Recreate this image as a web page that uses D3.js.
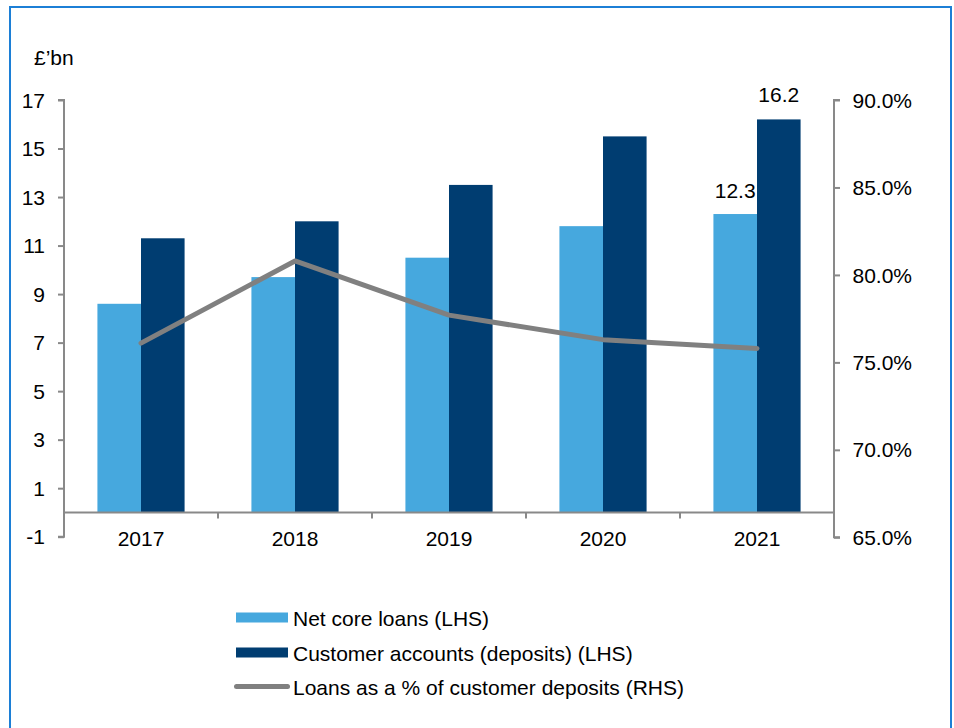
<!DOCTYPE html>
<html><head><meta charset="utf-8">
<script src="https://cdn.jsdelivr.net/npm/d3@7"></script>
<style>body{margin:0;background:#fff;} svg{display:block;font-family:"Liberation Sans",Arial,sans-serif;}</style>
</head><body>
<svg id="c" width="954" height="728"></svg>
<script>
const years = ["2017","2018","2019","2020","2021"];
const netCoreLoans = [8.6, 9.7, 10.5, 11.8, 12.3];
const customerAccounts = [11.3, 12.0, 13.5, 15.5, 16.2];
const loansPct = [76.1, 80.8, 77.7, 76.3, 75.8];
const leftTicks = [-1,1,3,5,7,9,11,13,15,17];
const rightTicks = [65,70,75,80,85,90];
const legendLabels = ["Net core loans (LHS)","Customer accounts (deposits) (LHS)","Loans as a % of customer deposits (RHS)"];

const FS = 21;
const svg = d3.select("#c");
const light = "#46a8de", dark = "#003d71", grey = "#808080", axisC = "#898989";
svg.append("rect").attr("x",10).attr("y",7).attr("width",941).attr("height",740)
  .attr("fill","none").attr("stroke","#1c7fd6").attr("stroke-width",2);

const x0 = 64, x1 = 834;
const x = d3.scaleBand().domain(years).range([x0,x1]);
const yL = d3.scaleLinear().domain([-1,17]).range([536.7,100]);
const yR = d3.scaleLinear().domain([65,90]).range([537.3,100]);
const bw = x.bandwidth()*0.283;

const g = svg.append("g");
years.forEach((yr,i)=>{
  const c = x(yr)+x.bandwidth()/2;
  g.append("rect").attr("x",c-bw).attr("width",bw).attr("y",yL(netCoreLoans[i])).attr("height",yL(0)-yL(netCoreLoans[i])).attr("fill",light);
  g.append("rect").attr("x",c).attr("width",bw).attr("y",yL(customerAccounts[i])).attr("height",yL(0)-yL(customerAccounts[i])).attr("fill",dark);
});

// left axis
const la = svg.append("g").attr("transform",`translate(${x0},0)`)
  .call(d3.axisLeft(yL).tickValues(leftTicks).tickSize(6).tickPadding(13).tickFormat(d=>d<0?"-"+Math.abs(d):String(d)));
// right axis
const ra = svg.append("g").attr("transform",`translate(${x1},0)`)
  .call(d3.axisRight(yR).tickValues(rightTicks).tickSize(6).tickPadding(12.5).tickFormat(d=>d.toFixed(1)+"%"));
[la,ra].forEach(a=>{
  a.selectAll(".tick line").attr("stroke",axisC).attr("stroke-width",2);
  a.selectAll("text").attr("font-size",FS).attr("fill","#000").attr("dy","0.34em")
    .attr("font-family","Liberation Sans, Arial, sans-serif");
});
la.select(".domain").attr("stroke",axisC).attr("stroke-width",2).attr("d",`M-6,${yL(-1)}H0V${yL(17)}H-6`);
ra.select(".domain").attr("stroke",axisC).attr("stroke-width",2).attr("d",`M6,${yR(65)}H0V${yR(90)}H6`);

// x axis at zero
const xa = svg.append("g").attr("transform",`translate(0,${yL(0)})`);
xa.append("line").attr("x1",x0).attr("x2",x1).attr("stroke",axisC).attr("stroke-width",2);
years.slice(1).forEach(yr=>{
  xa.append("line").attr("x1",x(yr)).attr("x2",x(yr)).attr("y1",0).attr("y2",6).attr("stroke",axisC).attr("stroke-width",2);
});
years.forEach(yr=>{
  svg.append("text").attr("x",x(yr)+x.bandwidth()/2).attr("y",546).attr("text-anchor","middle")
    .attr("font-size",FS).text(yr);
});

// line
const line = d3.line().x((d,i)=>x(years[i])+x.bandwidth()/2).y(d=>yR(d));
svg.append("path").datum(loansPct).attr("d",line).attr("fill","none").attr("stroke",grey)
  .attr("stroke-width",5).attr("stroke-linejoin","round").attr("stroke-linecap","round");

// data labels for 2021
const last = years.length-1;
const cl = x(years[last])+x.bandwidth()/2;
svg.append("text").attr("x",cl-bw/2).attr("y",yL(netCoreLoans[last])-16.5).attr("text-anchor","middle").attr("font-size",FS).text(netCoreLoans[last].toFixed(1));
svg.append("text").attr("x",cl+bw/2).attr("y",yL(customerAccounts[last])-17).attr("text-anchor","middle").attr("font-size",FS).text(customerAccounts[last].toFixed(1));

svg.append("text").attr("x",34).attr("y",65).attr("font-size",FS).text("£’bn");

// legend
const ly = [617.5,652.5,686.5];
svg.append("rect").attr("x",236).attr("y",ly[0]-5).attr("width",52).attr("height",10).attr("fill",light);
svg.append("rect").attr("x",236).attr("y",ly[1]-5).attr("width",52).attr("height",10).attr("fill",dark);
svg.append("line").attr("x1",236.5).attr("x2",287.5).attr("y1",ly[2]).attr("y2",ly[2]).attr("stroke",grey).attr("stroke-width",5).attr("stroke-linecap","round");
legendLabels.forEach((t,i)=>{
  svg.append("text").attr("x",293).attr("y",ly[i]+8.3).attr("font-size",FS).text(t);
});
</script>
</body></html>
